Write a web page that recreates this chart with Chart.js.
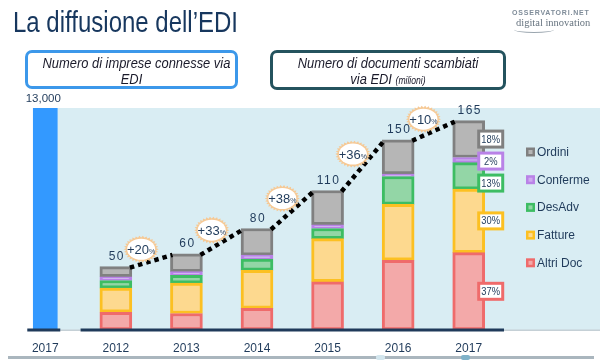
<!DOCTYPE html>
<html><head><meta charset="utf-8">
<script src="https://cdn.jsdelivr.net/npm/chart.js@4.4.1/dist/chart.umd.min.js"></script>
<style>
html,body{margin:0;padding:0;background:#fff;}
#wrap{position:relative;width:600px;height:360px;overflow:hidden;font-family:"Liberation Sans",Arial,sans-serif;}
#c{position:absolute;left:0;top:0;}
.title{position:absolute;left:13px;top:5px;font-family:"Liberation Sans",Arial,sans-serif;font-size:30px;color:#17375e;white-space:nowrap;transform:scaleX(0.8);transform-origin:0 0;}
.box{position:absolute;background:#fff;border-radius:7px;text-align:center;color:#1a1a2a;box-sizing:border-box;padding-top:2px;white-space:nowrap;}
.box div{font-style:italic;font-family:"Liberation Sans",Arial,sans-serif;font-size:15px;line-height:15.5px;transform:scaleX(0.86);transform-origin:50% 0;}
#b1{left:25px;top:50px;width:213px;height:39px;border:3px solid #3c98ea;}
#b2{left:270px;top:50px;width:236px;height:40px;border:3px solid #24535e;}
.small{font-size:10px}
.l1{position:absolute;left:512px;top:9px;font-size:7px;font-weight:bold;letter-spacing:0.8px;color:#7f8c99;white-space:nowrap;}
.l2{position:absolute;left:516px;top:17px;font-family:"Liberation Serif","DejaVu Serif",serif;font-size:10.5px;color:#66737f;white-space:nowrap;}
.l3{position:absolute;left:514px;top:26px;width:40px;height:6px;border-bottom:1.5px solid #9aa5ae;border-radius:0 0 50% 50%;}
.bot{position:absolute;left:8px;top:356px;width:586px;height:3px;background:#aab6be;}
.ic{position:absolute;top:355px;width:9px;height:5px;border-radius:2px;}
</style></head>
<body>
<div id="wrap">
<canvas id="c" width="600" height="360"></canvas>
<div class="title">La diffusione dell’EDI</div>
<div class="l1">OSSERVATORI.NET</div>
<div class="l2">digital innovation</div>
<div class="l3"></div>
<div class="box" id="b1"><div>Numero di imprese connesse via<br>EDI</div></div>
<div class="box" id="b2"><div>Numero di documenti scambiati<br>via EDI <span class="small">(milioni)</span></div></div>
<div class="bot"></div>
<div class="ic" style="left:376px;background:#d3e6ee"></div>
<div class="ic" style="left:461px;background:#7fb2c9"></div>
</div>
<script>
// ---- data ----
const firmYear = '2017';
const firms = 13000;
const years = ['2012','2013','2014','2015','2016','2017'];
const altriDoc = [14, 13, 17, 38, 55, 61];
const fatture  = [19, 24, 30, 34, 44, 50];
const desAdv   = [6, 6, 9, 8, 22, 21];
const conferme = [3, 3, 3, 3, 2, 4];
const ordini   = [8, 14, 21, 27, 27, 29];
const totals   = [50, 60, 80, 110, 150, 165];
const growth   = ['+20', '+33', '+38', '+36', '+10'];
const share2017 = {ordini:'18%', conferme:'2%', desAdv:'13%', fatture:'30%', altriDoc:'37%'};

const NAVY = '#1f3a5a';
const labels = [firmYear, ...years];
const pad = arr => [null, ...arr];

const series = [
  {key:'altriDoc', label:'Altri Doc', data:altriDoc, fill:'#f3a9a9', border:'#ef6b6b'},
  {key:'fatture',  label:'Fatture',   data:fatture,  fill:'#fdd98f', border:'#fcc022'},
  {key:'desAdv',   label:'DesAdv',    data:desAdv,   fill:'#93d6a6', border:'#3dbd63'},
  {key:'conferme', label:'Conferme',  data:conferme, fill:'#d0aaf1', border:'#b982e7'},
  {key:'ordini',   label:'Ordini',    data:ordini,   fill:'#b6b6b6', border:'#808080'}
];

const datasets = [{
  label:'Imprese connesse via EDI', data:[firms, null, null, null, null, null, null],
  yAxisID:'y2', backgroundColor:'#3399ff', borderWidth:0, barThickness:24
}].concat(series.map(s => ({
  label:s.label, data:pad(s.data), yAxisID:'y', backgroundColor:s.fill,
  borderColor:s.border, borderWidth:3, borderSkipped:false, barThickness:32
})));

function star(ctx, cx, cy){
  const n = 30, rx = 17.5, ry = 13.5;
  ctx.beginPath();
  for (let k = 0; k < 2*n; k++){
    const a = k*Math.PI/n, r = (k%2) ? 0.86 : 1;
    const px = cx + rx*r*Math.cos(a), py = cy + ry*r*Math.sin(a);
    k ? ctx.lineTo(px, py) : ctx.moveTo(px, py);
  }
  ctx.closePath();
  ctx.fillStyle = '#f6c995'; ctx.fill();
  ctx.beginPath(); ctx.ellipse(cx, cy, 14, 10.5, 0, 0, Math.PI*2);
  ctx.fillStyle = '#fff'; ctx.fill();
}

const deco = {
  id:'deco',
  beforeDatasetsDraw(chart){
    const {ctx, chartArea:ca} = chart;
    const be = chart.getDatasetMeta(0).data[0];
    const px = be.x + be.width/2;
    ctx.save();
    ctx.fillStyle = '#d9edf3';
    ctx.fillRect(px, ca.top, chart.width - px, ca.bottom - ca.top);
    ctx.restore();
  },
  afterDatasetsDraw(chart){
    const {ctx, chartArea:ca, scales} = chart;
    const y = scales.y;
    const be = chart.getDatasetMeta(0).data[0];
    const slot = (ca.right - ca.left) / labels.length;
    const base = ca.bottom;
    ctx.save();
    // baselines
    ctx.fillStyle = '#c5d0d6';
    ctx.fillRect(be.x + 15, base - 0.5, ca.left + slot - (be.x + 15), 1.5);
    ctx.fillRect(ca.right, base - 0.5, chart.width - ca.right, 1.5);
    ctx.fillStyle = NAVY;
    ctx.fillRect(be.x - 18, base - 1.5, 33, 3);
    ctx.fillRect(ca.left + slot, base - 1.5, ca.right - ca.left - slot, 3);

    // firm label
    ctx.fillStyle = NAVY;
    ctx.font = '11.5px "Liberation Sans", Arial, sans-serif';
    ctx.textAlign = 'center'; ctx.textBaseline = 'middle';
    ctx.fillText(firms.toLocaleString('en-US'), be.x - 2, be.y - 9);

    const topEls = chart.getDatasetMeta(series.length).data;
    // dotted line
    ctx.strokeStyle = '#000'; ctx.lineWidth = 4.5; ctx.setLineDash([4.5, 4]);
    for (let i = 0; i < totals.length - 1; i++){
      const a = topEls[i+1], b = topEls[i+2];
      ctx.beginPath();
      ctx.moveTo(a.x + a.width/2 - 2, y.getPixelForValue(totals[i]) + 1);
      ctx.lineTo(b.x - b.width/2 + 2, y.getPixelForValue(totals[i+1]) + 1);
      ctx.stroke();
    }
    ctx.setLineDash([]);
    // badges
    const bf = '13px "Liberation Sans", Arial, sans-serif';
    const pf = '7px "Liberation Sans", Arial, sans-serif';
    for (let i = 0; i < growth.length; i++){
      const a = topEls[i+1], b = topEls[i+2];
      const mx = ((a.x + a.width/2) + (b.x - b.width/2))/2 - 10;
      const my = (y.getPixelForValue(totals[i]) + y.getPixelForValue(totals[i+1]))/2 - 11;
      star(ctx, mx, my);
      ctx.fillStyle = NAVY;
      ctx.font = bf; const w1 = ctx.measureText(growth[i]).width;
      ctx.font = pf; const w2 = ctx.measureText('%').width;
      const sx = mx - (w1 + w2)/2;
      ctx.textAlign = 'left'; ctx.textBaseline = 'alphabetic';
      ctx.font = bf; ctx.fillText(growth[i], sx, my + 5);
      ctx.font = pf; ctx.fillText('%', sx + w1, my + 5);
    }
    // totals
    ctx.fillStyle = NAVY; ctx.textAlign = 'center'; ctx.textBaseline = 'middle';
    ctx.font = '12px "Liberation Sans", Arial, sans-serif';
    ctx.letterSpacing = '1.5px';
    for (let i = 0; i < totals.length; i++){
      const el = topEls[i+1];
      ctx.fillText(String(totals[i]), el.x + 1, y.getPixelForValue(totals[i]) - 10);
    }
    ctx.letterSpacing = '0px';
    // share boxes for last year
    const last = years.length;
    let prev = -Infinity;
    for (let s = series.length - 1; s >= 0; s--){
      const el = chart.getDatasetMeta(s+1).data[last];
      let cy = (el.y + el.base)/2;
      if (cy < prev + 22) cy = prev + 22;
      prev = cy;
      const cx = el.x + el.width/2 + 6, w = 24, h = 16;
      ctx.fillStyle = '#fff'; ctx.fillRect(cx - w/2, cy - h/2, w, h);
      ctx.strokeStyle = series[s].border; ctx.lineWidth = 3;
      ctx.strokeRect(cx - w/2, cy - h/2, w, h);
      ctx.fillStyle = NAVY; ctx.font = '11px "Liberation Sans", Arial, sans-serif';
      ctx.save(); ctx.translate(cx, cy + 0.5); ctx.scale(0.85, 1);
      ctx.fillText(share2017[series[s].key], 0, 0);
      ctx.restore();
    }
    // legend
    ctx.textAlign = 'left';
    ctx.font = '12px "Liberation Sans", Arial, sans-serif';
    for (let k = 0; k < series.length; k++){
      const s = series[series.length - 1 - k];
      const ly = 152 + k*27.7, lx = ca.right + 22;
      ctx.fillStyle = s.border; ctx.fillRect(lx, ly - 4.5, 9, 9);
      ctx.fillStyle = s.fill; ctx.fillRect(lx + 2.5, ly - 2, 4, 4);
      ctx.fillStyle = NAVY; ctx.fillText(s.label, lx + 11, ly + 0.5);
    }
    ctx.restore();
  }
};

new Chart(document.getElementById('c'), {
  type:'bar',
  data:{labels, datasets},
  options:{
    responsive:false, animation:false, devicePixelRatio:1,
    layout:{padding:{left:10, right:96, top:108, bottom:6}},
    plugins:{legend:{display:false}, tooltip:{enabled:false}},
    scales:{
      x:{stacked:true, grid:{display:false, drawTicks:false}, border:{display:false},
         ticks:{color:NAVY, padding:11, font:{size:12, family:'"Liberation Sans", Arial, sans-serif'}},
         afterFit:s => { s.height = 24; }},
      y:{stacked:true, display:false, min:0, max:175},
      y2:{display:false, min:0, max:13000}
    }
  },
  plugins:[deco]
});
</script>
</body></html>
